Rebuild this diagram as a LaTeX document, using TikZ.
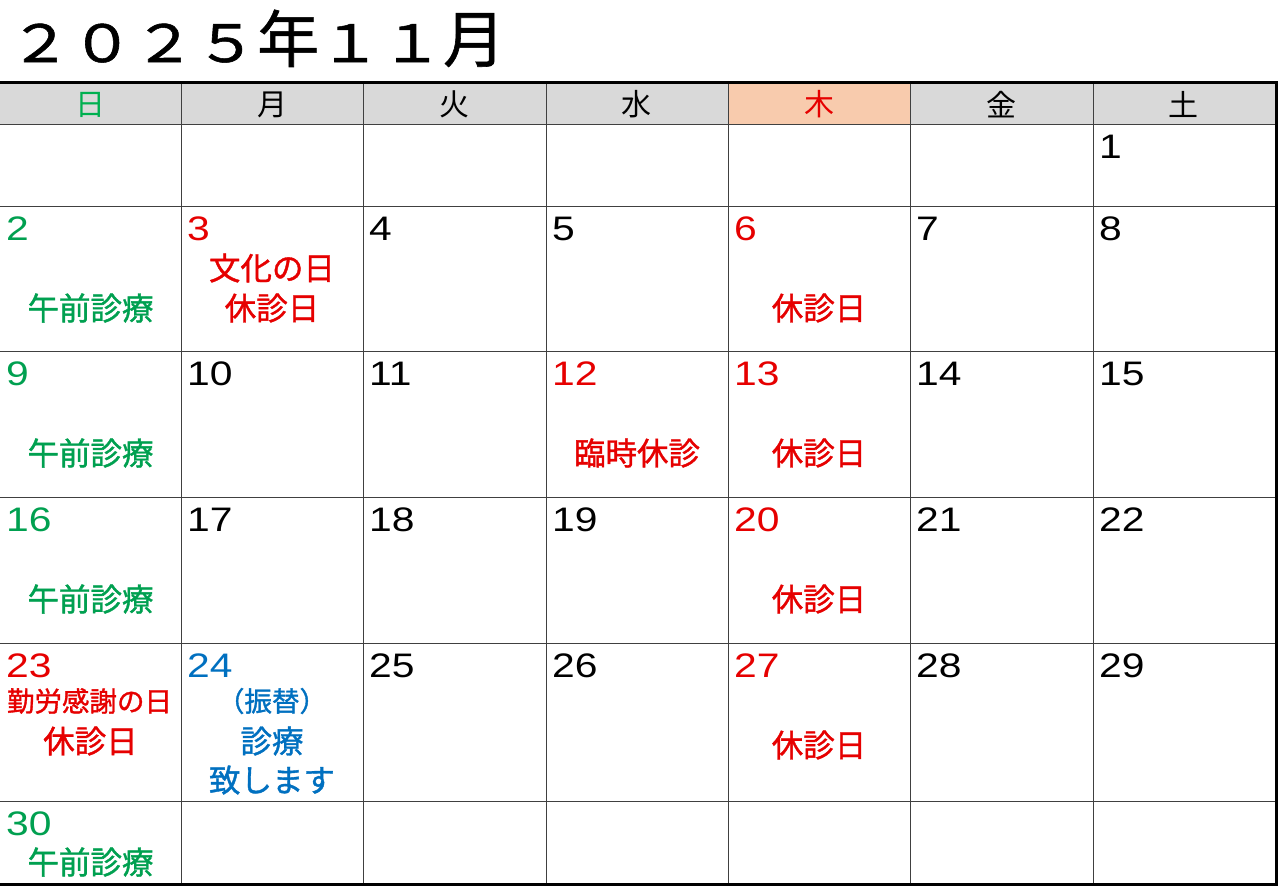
\documentclass[tikz,border=0pt]{standalone}
\usepackage{fontspec}
\setmainfont{Liberation Sans}
\newfontfamily\numfont[FakeStretch=1.2]{Liberation Sans}
\newfontfamily\jp{Noto Sans CJK JP}
\newfontfamily\jptitle[FakeBold=1]{Noto Sans CJK JP}
\newfontfamily\jpnote[FakeBold=1.2]{Noto Sans CJK JP}
\newcommand\tnum[1]{\scalebox{1}[0.83]{#1}}
\definecolor{sungreen}{HTML}{00B050}
\definecolor{notegreen}{HTML}{00A050}
\definecolor{holred}{HTML}{E60000}
\definecolor{furiblue}{HTML}{0070C0}
\definecolor{headgray}{HTML}{D9D9D9}
\definecolor{thufill}{HTML}{F8CBAD}
\tikzset{
	daynum/.style={anchor=base west,inner sep=0pt,font=\numfont\fontsize{34}{34}\selectfont},
	wday/.style={inner sep=0pt,font=\jp\fontsize{30}{30}\selectfont},
	note/.style={inner sep=0pt,font=\jpnote\fontsize{31.5}{31.5}\selectfont},
	smallnote/.style={note,font=\jpnote\fontsize{27.5}{27.5}\selectfont},
	gridline/.style={draw=black!75,line width=1pt}
}

\begin{document}
\begin{tikzpicture}[x=1pt,y=-1pt]
		\useasboundingbox (0,0) rectangle (1280,886);
		\clip (0,0) rectangle (1280,886);
		\fill[white] (0,0) rectangle (1280,886);
		% header row
		\fill[headgray] (0,82) rectangle (1276,124);
		\fill[thufill] (728,82) rectangle (910,124);
		\foreach \x in {181,363,546,728,910,1093}
			\draw[gridline] (\x,82) -- (\x,884);
		\foreach \y in {124,206,351,497,643,801}
			\draw[gridline] (-5,\y) -- (1276,\y);
		\draw[line width=3pt] (-5,82) rectangle (1276,884);
		% title
		\node[anchor=base west,inner sep=0pt,font=\jptitle\fontsize{62}{62}\selectfont] (title) at (9,62)
			{\tnum{２}\tnum{０}\tnum{２}\tnum{５}年\tnum{１}\tnum{１}月};
		% weekdays
		\foreach \i/\w/\col in {0/日/sungreen,1/月/black,2/火/black,3/水/black,4/木/holred,5/金/black,6/土/black}
			\node[wday,text=\col] (w\i) at (90.5+182.14*\i,104.5) {\w};
		% day numbers: number/column/row/colour
		\foreach \n/\c/\r/\col in {1/6/0/black,
				2/0/1/notegreen,3/1/1/holred,4/2/1/black,5/3/1/black,6/4/1/holred,7/5/1/black,8/6/1/black,
				9/0/2/notegreen,10/1/2/black,11/2/2/black,12/3/2/holred,13/4/2/holred,14/5/2/black,15/6/2/black,
				16/0/3/notegreen,17/1/3/black,18/2/3/black,19/3/3/black,20/4/3/holred,21/5/3/black,22/6/3/black,
				23/0/4/holred,24/1/4/furiblue,25/2/4/black,26/3/4/black,27/4/4/holred,28/5/4/black,29/6/4/black,
				30/0/5/notegreen}{
			\pgfmathsetmacro\cx{{0,181,363,546,728,910,1093}[\c]}
			\pgfmathsetmacro\ry{{124,206,351,497,643,801}[\r]}
			\node[daynum,text=\col] (d\n) at (\cx+6,\ry+34) {\n};
		}
		% notes
		\node[note,text=notegreen] (n2) at (90.5,308) {午前診療};
		\node[note,text=holred] (n3a) at (272,268) {文化の日};
		\node[note,text=holred] (n3b) at (272,308) {休診日};
		\node[note,text=holred] (n6) at (819,308) {休診日};
		\node[note,text=notegreen] (n9) at (90.5,453) {午前診療};
		\node[note,text=holred] (n12) at (637,453) {臨時休診};
		\node[note,text=holred] (n13) at (819,453) {休診日};
		\node[note,text=notegreen] (n16) at (90.5,599) {午前診療};
		\node[note,text=holred] (n20) at (819,599) {休診日};
		\node[smallnote,text=holred] (n23a) at (89.5,701) {勤労感謝の日};
		\node[note,text=holred] (n23b) at (90.5,741) {休診日};
		\node[smallnote,text=furiblue] (n24a) at (272,701) {（振替）};
		\node[note,text=furiblue] (n24b) at (272,741) {診療};
		\node[note,text=furiblue] (n24c) at (272,780) {致します};
		\node[note,text=holred] (n27) at (819,745) {休診日};
		\node[note,text=notegreen] (n30) at (90.5,862) {午前診療};
\end{tikzpicture}
\end{document}
